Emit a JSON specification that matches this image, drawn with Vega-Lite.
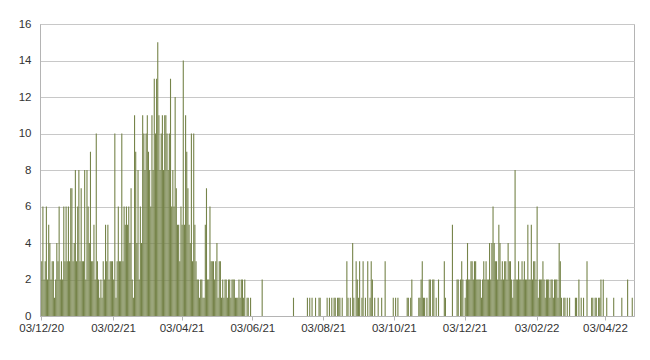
{
"$schema":"https://vega.github.io/schema/vega-lite/v6.json",
"width":594,"height":292,
"autosize":{"type":"none"},
"padding":{"left":40,"top":24,"right":16,"bottom":44},
"background":"white",
"config":{"view":{"stroke":"#b4b4b4","strokeWidth":1},
"axis":{"labelFont":"Liberation Sans","labelFontSize":11.5,"labelColor":"#333333","domainColor":"#b4b4b4","tickColor":"#b4b4b4","gridColor":"#c8c8c8","title":null}},
"data":{"values":[
{"date":"2020-12-03","cases":3},{"date":"2020-12-04","cases":6},{"date":"2020-12-05","cases":2},{"date":"2020-12-06","cases":3},{"date":"2020-12-07","cases":6},{"date":"2020-12-08","cases":2},{"date":"2020-12-09","cases":5},{"date":"2020-12-10","cases":4},{"date":"2020-12-11","cases":2},{"date":"2020-12-12","cases":3},{"date":"2020-12-13","cases":3},{"date":"2020-12-14","cases":1},{"date":"2020-12-15","cases":2},{"date":"2020-12-16","cases":4},{"date":"2020-12-17","cases":3},{"date":"2020-12-18","cases":6},{"date":"2020-12-19","cases":2},{"date":"2020-12-20","cases":3},{"date":"2020-12-21","cases":2},{"date":"2020-12-22","cases":6},{"date":"2020-12-23","cases":3},{"date":"2020-12-24","cases":6},{"date":"2020-12-25","cases":3},{"date":"2020-12-26","cases":6},{"date":"2020-12-27","cases":3},{"date":"2020-12-28","cases":7},{"date":"2020-12-29","cases":7},{"date":"2020-12-30","cases":3},{"date":"2020-12-31","cases":4},
{"date":"2021-01-01","cases":8},{"date":"2021-01-02","cases":3},{"date":"2021-01-03","cases":6},{"date":"2021-01-04","cases":8},{"date":"2021-01-05","cases":3},{"date":"2021-01-06","cases":7},{"date":"2021-01-07","cases":3},{"date":"2021-01-08","cases":3},{"date":"2021-01-09","cases":8},{"date":"2021-01-10","cases":2},{"date":"2021-01-11","cases":8},{"date":"2021-01-12","cases":6},{"date":"2021-01-13","cases":4},{"date":"2021-01-14","cases":9},{"date":"2021-01-15","cases":3},{"date":"2021-01-16","cases":3},{"date":"2021-01-17","cases":5},{"date":"2021-01-18","cases":2},{"date":"2021-01-19","cases":10},{"date":"2021-01-20","cases":3},{"date":"2021-01-21","cases":2},{"date":"2021-01-22","cases":1},{"date":"2021-01-23","cases":2},{"date":"2021-01-24","cases":1},{"date":"2021-01-25","cases":3},{"date":"2021-01-26","cases":2},{"date":"2021-01-27","cases":5},{"date":"2021-01-28","cases":3},{"date":"2021-01-29","cases":5},{"date":"2021-01-30","cases":2},{"date":"2021-01-31","cases":3},
{"date":"2021-02-01","cases":3},{"date":"2021-02-02","cases":3},{"date":"2021-02-03","cases":2},{"date":"2021-02-04","cases":10},{"date":"2021-02-05","cases":1},{"date":"2021-02-06","cases":3},{"date":"2021-02-07","cases":6},{"date":"2021-02-08","cases":3},{"date":"2021-02-09","cases":3},{"date":"2021-02-10","cases":10},{"date":"2021-02-11","cases":3},{"date":"2021-02-12","cases":6},{"date":"2021-02-13","cases":5},{"date":"2021-02-14","cases":6},{"date":"2021-02-15","cases":5},{"date":"2021-02-16","cases":6},{"date":"2021-02-17","cases":4},{"date":"2021-02-18","cases":7},{"date":"2021-02-19","cases":2},{"date":"2021-02-20","cases":1},{"date":"2021-02-21","cases":11},{"date":"2021-02-22","cases":9},{"date":"2021-02-23","cases":4},{"date":"2021-02-24","cases":8},{"date":"2021-02-25","cases":2},{"date":"2021-02-26","cases":6},{"date":"2021-02-27","cases":4},{"date":"2021-02-28","cases":11},
{"date":"2021-03-01","cases":10},{"date":"2021-03-02","cases":8},{"date":"2021-03-03","cases":10},{"date":"2021-03-04","cases":11},{"date":"2021-03-05","cases":9},{"date":"2021-03-06","cases":8},{"date":"2021-03-07","cases":6},{"date":"2021-03-08","cases":11},{"date":"2021-03-09","cases":8},{"date":"2021-03-10","cases":13},{"date":"2021-03-11","cases":10},{"date":"2021-03-12","cases":13},{"date":"2021-03-13","cases":15},{"date":"2021-03-14","cases":11},{"date":"2021-03-15","cases":8},{"date":"2021-03-16","cases":10},{"date":"2021-03-17","cases":11},{"date":"2021-03-18","cases":8},{"date":"2021-03-19","cases":11},{"date":"2021-03-20","cases":11},{"date":"2021-03-21","cases":10},{"date":"2021-03-22","cases":8},{"date":"2021-03-23","cases":10},{"date":"2021-03-24","cases":13},{"date":"2021-03-25","cases":6},{"date":"2021-03-26","cases":8},{"date":"2021-03-27","cases":6},{"date":"2021-03-28","cases":12},{"date":"2021-03-29","cases":7},{"date":"2021-03-30","cases":5},{"date":"2021-03-31","cases":5},
{"date":"2021-04-01","cases":3},{"date":"2021-04-02","cases":6},{"date":"2021-04-03","cases":5},{"date":"2021-04-04","cases":14},{"date":"2021-04-05","cases":5},{"date":"2021-04-06","cases":11},{"date":"2021-04-07","cases":9},{"date":"2021-04-08","cases":7},{"date":"2021-04-09","cases":5},{"date":"2021-04-10","cases":4},{"date":"2021-04-11","cases":10},{"date":"2021-04-12","cases":3},{"date":"2021-04-13","cases":10},{"date":"2021-04-14","cases":5},{"date":"2021-04-15","cases":3},{"date":"2021-04-16","cases":2},{"date":"2021-04-17","cases":2},{"date":"2021-04-18","cases":1},{"date":"2021-04-19","cases":2},{"date":"2021-04-20","cases":2},{"date":"2021-04-21","cases":1},{"date":"2021-04-22","cases":1},{"date":"2021-04-23","cases":5},{"date":"2021-04-24","cases":7},{"date":"2021-04-25","cases":2},{"date":"2021-04-26","cases":2},{"date":"2021-04-27","cases":6},{"date":"2021-04-28","cases":3},{"date":"2021-04-29","cases":3},{"date":"2021-04-30","cases":3},
{"date":"2021-05-01","cases":2},{"date":"2021-05-02","cases":3},{"date":"2021-05-03","cases":4},{"date":"2021-05-04","cases":1},{"date":"2021-05-05","cases":3},{"date":"2021-05-06","cases":3},{"date":"2021-05-07","cases":1},{"date":"2021-05-08","cases":2},{"date":"2021-05-09","cases":1},{"date":"2021-05-10","cases":2},{"date":"2021-05-11","cases":2},{"date":"2021-05-12","cases":1},{"date":"2021-05-13","cases":2},{"date":"2021-05-14","cases":2},{"date":"2021-05-15","cases":1},{"date":"2021-05-16","cases":2},{"date":"2021-05-17","cases":2},{"date":"2021-05-18","cases":2},{"date":"2021-05-19","cases":1},{"date":"2021-05-20","cases":1},{"date":"2021-05-21","cases":1},{"date":"2021-05-22","cases":2},{"date":"2021-05-23","cases":1},{"date":"2021-05-24","cases":2},{"date":"2021-05-25","cases":2},{"date":"2021-05-26","cases":1},{"date":"2021-05-27","cases":2},{"date":"2021-05-29","cases":1},{"date":"2021-05-30","cases":1},
{"date":"2021-06-01","cases":1},{"date":"2021-06-11","cases":2},
{"date":"2021-07-08","cases":1},{"date":"2021-07-20","cases":1},{"date":"2021-07-22","cases":1},{"date":"2021-07-24","cases":1},{"date":"2021-07-27","cases":1},{"date":"2021-07-30","cases":1},{"date":"2021-07-31","cases":1},
{"date":"2021-08-06","cases":1},{"date":"2021-08-08","cases":1},{"date":"2021-08-10","cases":1},{"date":"2021-08-12","cases":1},{"date":"2021-08-13","cases":1},{"date":"2021-08-15","cases":1},{"date":"2021-08-16","cases":1},{"date":"2021-08-17","cases":1},{"date":"2021-08-19","cases":1},{"date":"2021-08-23","cases":3},{"date":"2021-08-24","cases":1},{"date":"2021-08-26","cases":1},{"date":"2021-08-28","cases":4},{"date":"2021-08-29","cases":1},{"date":"2021-08-31","cases":3},
{"date":"2021-09-01","cases":2},{"date":"2021-09-02","cases":1},{"date":"2021-09-03","cases":3},{"date":"2021-09-05","cases":1},{"date":"2021-09-06","cases":3},{"date":"2021-09-08","cases":1},{"date":"2021-09-10","cases":3},{"date":"2021-09-12","cases":1},{"date":"2021-09-13","cases":3},{"date":"2021-09-14","cases":2},{"date":"2021-09-16","cases":1},{"date":"2021-09-19","cases":1},{"date":"2021-09-22","cases":1},{"date":"2021-09-25","cases":3},
{"date":"2021-10-02","cases":1},{"date":"2021-10-04","cases":1},{"date":"2021-10-06","cases":1},{"date":"2021-10-14","cases":1},{"date":"2021-10-15","cases":1},{"date":"2021-10-17","cases":1},{"date":"2021-10-18","cases":2},{"date":"2021-10-24","cases":1},{"date":"2021-10-25","cases":1},{"date":"2021-10-26","cases":2},{"date":"2021-10-27","cases":3},{"date":"2021-10-28","cases":1},{"date":"2021-10-29","cases":1},{"date":"2021-10-31","cases":1},
{"date":"2021-11-02","cases":2},{"date":"2021-11-03","cases":2},{"date":"2021-11-05","cases":2},{"date":"2021-11-06","cases":2},{"date":"2021-11-08","cases":1},{"date":"2021-11-10","cases":2},{"date":"2021-11-15","cases":3},{"date":"2021-11-16","cases":1},{"date":"2021-11-22","cases":5},{"date":"2021-11-26","cases":2},{"date":"2021-11-27","cases":2},{"date":"2021-11-29","cases":2},{"date":"2021-11-30","cases":3},
{"date":"2021-12-01","cases":2},{"date":"2021-12-03","cases":1},{"date":"2021-12-04","cases":2},{"date":"2021-12-05","cases":4},{"date":"2021-12-06","cases":2},{"date":"2021-12-07","cases":2},{"date":"2021-12-08","cases":3},{"date":"2021-12-09","cases":3},{"date":"2021-12-10","cases":2},{"date":"2021-12-11","cases":3},{"date":"2021-12-12","cases":3},{"date":"2021-12-13","cases":2},{"date":"2021-12-14","cases":2},{"date":"2021-12-15","cases":2},{"date":"2021-12-16","cases":2},{"date":"2021-12-17","cases":1},{"date":"2021-12-18","cases":2},{"date":"2021-12-19","cases":3},{"date":"2021-12-20","cases":2},{"date":"2021-12-21","cases":3},{"date":"2021-12-22","cases":2},{"date":"2021-12-23","cases":2},{"date":"2021-12-24","cases":4},{"date":"2021-12-25","cases":2},{"date":"2021-12-26","cases":4},{"date":"2021-12-27","cases":6},{"date":"2021-12-28","cases":4},{"date":"2021-12-29","cases":3},{"date":"2021-12-30","cases":3},{"date":"2021-12-31","cases":2},
{"date":"2022-01-01","cases":5},{"date":"2022-01-02","cases":4},{"date":"2022-01-03","cases":2},{"date":"2022-01-04","cases":3},{"date":"2022-01-05","cases":2},{"date":"2022-01-06","cases":3},{"date":"2022-01-07","cases":3},{"date":"2022-01-08","cases":2},{"date":"2022-01-09","cases":4},{"date":"2022-01-10","cases":3},{"date":"2022-01-11","cases":3},{"date":"2022-01-12","cases":2},{"date":"2022-01-13","cases":1},{"date":"2022-01-14","cases":2},{"date":"2022-01-15","cases":8},{"date":"2022-01-16","cases":2},{"date":"2022-01-17","cases":2},{"date":"2022-01-18","cases":3},{"date":"2022-01-19","cases":2},{"date":"2022-01-20","cases":2},{"date":"2022-01-21","cases":3},{"date":"2022-01-22","cases":2},{"date":"2022-01-23","cases":3},{"date":"2022-01-24","cases":2},{"date":"2022-01-25","cases":2},{"date":"2022-01-26","cases":5},{"date":"2022-01-27","cases":2},{"date":"2022-01-28","cases":2},{"date":"2022-01-29","cases":5},{"date":"2022-01-30","cases":2},{"date":"2022-01-31","cases":3},
{"date":"2022-02-01","cases":3},{"date":"2022-02-02","cases":2},{"date":"2022-02-03","cases":6},{"date":"2022-02-04","cases":1},{"date":"2022-02-05","cases":2},{"date":"2022-02-06","cases":2},{"date":"2022-02-07","cases":2},{"date":"2022-02-08","cases":3},{"date":"2022-02-09","cases":2},{"date":"2022-02-10","cases":1},{"date":"2022-02-11","cases":2},{"date":"2022-02-12","cases":2},{"date":"2022-02-13","cases":2},{"date":"2022-02-14","cases":1},{"date":"2022-02-15","cases":2},{"date":"2022-02-16","cases":2},{"date":"2022-02-17","cases":1},{"date":"2022-02-18","cases":2},{"date":"2022-02-19","cases":2},{"date":"2022-02-20","cases":2},{"date":"2022-02-21","cases":1},{"date":"2022-02-22","cases":4},{"date":"2022-02-23","cases":3},{"date":"2022-02-24","cases":1},{"date":"2022-02-26","cases":1},{"date":"2022-02-27","cases":1},
{"date":"2022-03-01","cases":1},{"date":"2022-03-03","cases":1},{"date":"2022-03-08","cases":1},{"date":"2022-03-09","cases":1},{"date":"2022-03-11","cases":2},{"date":"2022-03-13","cases":1},{"date":"2022-03-15","cases":1},{"date":"2022-03-18","cases":3},{"date":"2022-03-22","cases":1},{"date":"2022-03-23","cases":1},{"date":"2022-03-25","cases":1},{"date":"2022-03-26","cases":1},{"date":"2022-03-28","cases":1},{"date":"2022-03-29","cases":1},{"date":"2022-03-30","cases":2},
{"date":"2022-04-01","cases":2},{"date":"2022-04-04","cases":1},{"date":"2022-04-10","cases":1},{"date":"2022-04-17","cases":1},{"date":"2022-04-22","cases":2},{"date":"2022-04-26","cases":1}
]},
"mark":{"type":"bar","color":"#76844a","width":1.1,"opacity":1},
"encoding":{
"x":{"field":"date","timeUnit":"utcyearmonthdate","type":"temporal",
"scale":{"nice":false,"domain":[{"year":2020,"month":12,"date":2,"utc":true},{"year":2022,"month":4,"date":28,"utc":true}]},
"axis":{"values":[{"year":2020,"month":12,"date":3,"utc":true},{"year":2021,"month":2,"date":3,"utc":true},{"year":2021,"month":4,"date":3,"utc":true},{"year":2021,"month":6,"date":3,"utc":true},{"year":2021,"month":8,"date":3,"utc":true},{"year":2021,"month":10,"date":3,"utc":true},{"year":2021,"month":12,"date":3,"utc":true},{"year":2022,"month":2,"date":3,"utc":true},{"year":2022,"month":4,"date":3,"utc":true}],
"format":"%d/%m/%y","grid":false,"tickSize":4,"labelPadding":2,"labelFlush":false,"labelOverlap":false}},
"y":{"field":"cases","type":"quantitative","scale":{"domain":[0,16],"nice":false},
"axis":{"values":[0,2,4,6,8,10,12,14,16],"grid":true,"ticks":false,"domain":true,"labelPadding":9}}
}
}
